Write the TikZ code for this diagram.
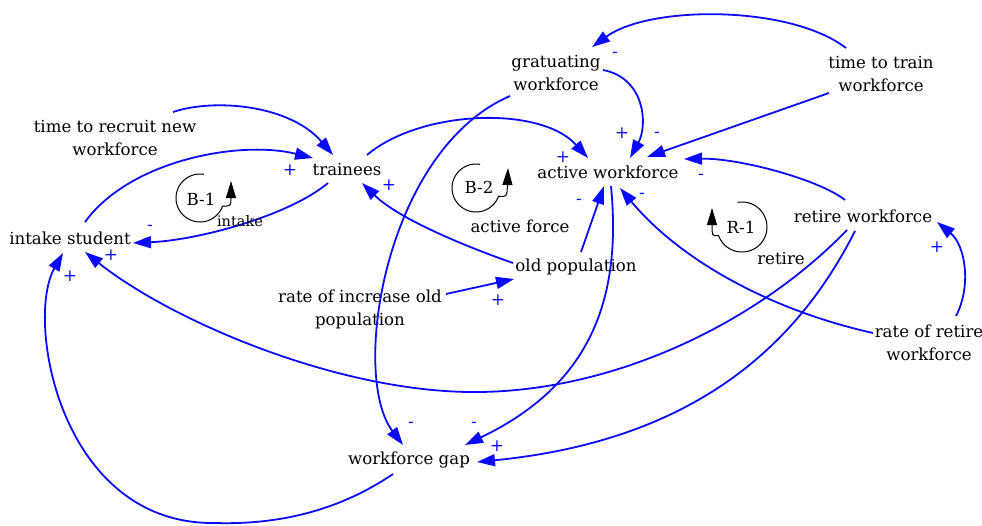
\documentclass[tikz,border=0pt]{standalone}
\usepackage{fontspec}
\setmainfont{DejaVu Serif}
\usetikzlibrary{arrows.meta,calc}
\definecolor{linkblue}{RGB}{10,10,255}
\begin{document}
\begin{tikzpicture}[x=1pt,y=-1pt,
  var/.style={align=center,font=\rmfamily\fontsize{16.6}{23}\selectfont,inner sep=0pt},
  lbl/.style={font=\rmfamily\fontsize{16.6}{23}\selectfont,inner sep=0pt},
  pol/.style={text=linkblue,font=\rmfamily\fontsize{17}{18}\selectfont,inner sep=0pt},
  link/.style={draw=linkblue,line width=1.8pt,-{Triangle[length=18pt,width=12pt]}},
  loopc/.style={draw=black,line width=1pt,-{Triangle[length=17pt,width=10pt]}},
]
\useasboundingbox (0,0) rectangle (982,525);

% variables
\node[var] (gw)  at (556,73)  {gratuating\\workforce};
\node[var] (ttt) at (881,74)  {time to train\\workforce};
\node[var] (ttr) at (115,138) {time to recruit new\\workforce};
\node[var] (tr)  at (347,170) {trainees};
\node[var] (aw)  at (608,172) {active workforce};
\node[var] (is)  at (70,238)  {intake student};
\node[var] (op)  at (576,267) {old population};
\node[var] (rio) at (360,309) {rate of increase old\\population};
\node[var] (rw)  at (863,216) {retire workforce};
\node[var] (rrw) at (929,343) {rate of retire\\workforce};
\node[var] (wg)  at (409,460) {workforce gap};

% links
\draw[link] ([shift={(-35,-26)}]ttt.center) .. controls (790,5) and (650,5) .. ([shift={(36,-26)}]gw.center);
\draw[link] ([shift={(-52,19)}]ttt.center) -- ([shift={(39,-15)}]aw.center);
\draw[link] ([shift={(47,-3)}]gw.center) .. controls (645,78) and (648,125) .. ([shift={(22,-14)}]aw.center);
\draw[link] ([shift={(-46,23)}]gw.center) .. controls (385,150) and (350,375) .. ([shift={(-6,-15)}]wg.center);
\draw[link] ([shift={(20,-15)}]tr.center) .. controls (420,110) and (540,105) .. ([shift={(-20,-14)}]aw.center);
\draw[link] ([shift={(58,-26)}]ttr.center) .. controls (215,98) and (290,105) .. ([shift={(-14,-15)}]tr.center);
\draw[link] ([shift={(15,-16)}]is.center) .. controls (130,160) and (240,140) .. ([shift={(-34,-12)}]tr.center);
\draw[link] ([shift={(-19,13)}]tr.center) .. controls (290,215) and (200,240) .. ([shift={(63,5)}]is.center);
\draw[link] ([shift={(-63,-4)}]op.center) .. controls (470,248) and (400,220) .. ([shift={(15,13)}]tr.center);
\draw[link] ([shift={(86,-15)}]rio.center) -- ([shift={(-62,12)}]op.center);
\draw[link] ([shift={(5,-15)}]op.center) -- ([shift={(-4,14)}]aw.center);
\draw[link] ([shift={(3,14)}]aw.center) .. controls (622,300) and (590,385) .. ([shift={(56,-15)}]wg.center);
\draw[link] ([shift={(-56,-10)}]rrw.center) .. controls (770,310) and (680,260) .. ([shift={(12,16)}]aw.center);
\draw[link] ([shift={(27,-27)}]rrw.center) .. controls (972,285) and (965,245) .. ([shift={(74,6)}]rw.center);
\draw[link] ([shift={(-18,-16)}]rw.center) .. controls (820,180) and (740,158) .. ([shift={(76,-13)}]aw.center);
\coordinate (m16) at (480,392);
\draw[link] ([shift={(-16,14)}]rw.center) .. controls (760,320) and (620,390) .. (m16) .. controls (340,394) and (170,320) .. ([shift={(15,14)}]is.center);
\draw[link] ([shift={(-8,15)}]rw.center) .. controls (800,340) and (700,440) .. ([shift={(68,2)}]wg.center);
\coordinate (m18) at (215,523);
\draw[link] ([shift={(-16,14)}]wg.center) .. controls (340,510) and (280,525) .. (m18) .. controls (60,525) and (25,320) .. ([shift={(-7,15)}]is.center);

% polarities
\node[pol] (s1)  at (615,55)  {-};
\node[pol] (s2)  at (657,135) {-};
\node[pol] (s3)  at (622,133) {+};
\node[pol] (s4)  at (411,425) {-};
\node[pol] (s5)  at (563,157) {+};
\node[pol] (s7)  at (290,170) {+};
\node[pol] (s8)  at (150,228) {-};
\node[pol] (s9)  at (389,185) {+};
\node[pol] (s10) at (498,300) {+};
\node[pol] (s11) at (579,202) {-};
\node[pol] (s12) at (474,425) {-};
\node[pol] (s13) at (642,196) {-};
\node[pol] (s14) at (937,247) {+};
\node[pol] (s15) at (701,177) {-};
\node[pol] (s16) at (111,255) {+};
\node[pol] (s17) at (497,446) {+};
\node[pol] (s18) at (70,276)  {+};

% loops
\draw[loopc] plot[domain=80:340,samples=50] ({200+24*cos(\x)},{198-24*sin(\x)}) .. controls (231,206) .. (231,181);
\node[lbl] (b1) at (201,199) {B-1};
\node[lbl,font=\rmfamily\fontsize{14.5}{18}\selectfont] (li) at (240,221) {intake};
\draw[loopc] plot[domain=80:340,samples=50] ({476+24*cos(\x)},{188-24*sin(\x)}) .. controls (507,197) .. (508,168);
\node[lbl] (b2) at (479,187) {B-2};
\node[lbl] (la) at (520,226) {active force};
\draw[loopc] plot[domain=0:260,samples=50] ({742+25*cos(100-\x)},{227-25*sin(100-\x)}) .. controls (712,236) .. (712,208);
\node[lbl] (r1) at (741,227) {R-1};
\node[lbl] (lr) at (781,259) {retire};
\end{tikzpicture}
\end{document}
